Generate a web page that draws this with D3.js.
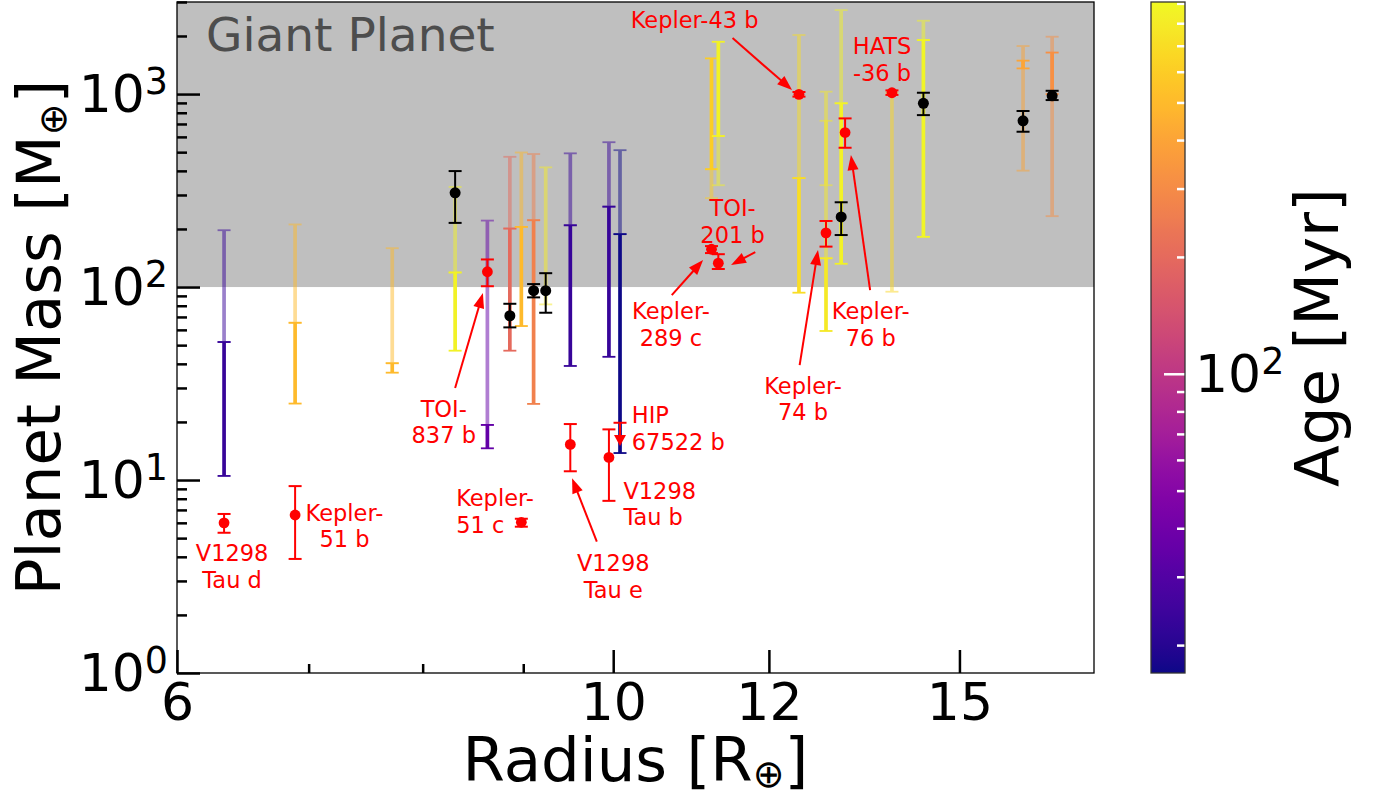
<!DOCTYPE html>
<html>
<head>
<meta charset="utf-8">
<script src="https://cdn.jsdelivr.net/npm/d3@7"></script>
<style>
  body { margin: 0; background: #fff; }
  svg { display: block; }
  text { font-family: "DejaVu Sans", sans-serif; }
</style>
</head>
<body>
<svg id="chart" width="1377" height="798"></svg>
<script>
// ---------- axis ticks ----------
const radiusTicks = [6, 10, 12, 15];
const radiusMinorTicks = [7, 8, 9];
const massDecades = [1, 10, 100, 1000];
const ageDecades = [100];
const giantMass = 100;

// ---------- predicted mass ranges (Earth masses) coloured by host age (Myr) ----------
const rangeRadius = [6.34, 6.89, 7.72, 8.31, 8.63, 8.86, 8.98, 9.11, 9.24, 9.51, 9.95, 10.08,
                     11.22, 11.31, 12.43, 12.83, 12.83, 13.06, 13.86, 14.38, 16.16, 16.72];
const rangeAge    = [23, 500, 500, 850, 35, 200, 500, 270, 800, 23, 23, 17,
                     600, 850, 700, 780, 780, 850, 660, 880, 400, 320];
const solidLow    = [10.5, 24.9, 36.0, 46.8, 14.6, 46.8, 62.8, 24.8, null, 39.0, 43.5, 13.8,
                     408, 606, 93.5, 59.2, null, 132, null, 182, 1358, 1000];
const solidHigh   = [51.9, 65.3, 40.3, 119, 19.3, 201, 205, 222, null, 209, 261, 188,
                     1531, 1866, 367, 141, null, 896, null, 1905, 1490, 1641];
const faintLow    = [51.9, 65.3, 40.3, 119, 19.3, 201, 205, 222, 81.3, 209, 261, 188,
                     289, 337, 367, 141, 337, 896, 94.6, 1905, 401, 233];
const faintHigh   = [197, 211, 159, 330, 221, 473, 498, 489, 417, 493, 563, 512,
                     408, 606, 2023, 1029, 727, 2723, 1016, 2399, 1774, 1982];

// ---------- measured reference planets ----------
const refRadius = [8.31, 8.86, 9.11, 9.24, 13.06, 14.38, 16.16, 16.72];
const refMass   = [308, 71.0, 95.7, 95.7, 231, 896, 727, 980];
const refLow    = [215, 61.8, 88.4, 73.6, 186, 778, 638, 931];
const refHigh   = [399, 81.9, 103.6, 118, 275, 1016, 817, 1040];

// ---------- young planets with measured masses ----------
const youngName   = ["V1298 Tau d", "Kepler-51 b", "TOI-837 b", "Kepler-51 c", "V1298 Tau e",
                     "V1298 Tau b", "Kepler-289 c", "TOI-201 b", "Kepler-43 b", "Kepler-74 b",
                     "Kepler-76 b", "HATS-36 b"];
const youngRadius = [6.34, 6.89, 8.63, 8.98, 9.51, 9.95, 11.22, 11.31, 12.43, 12.83, 13.12, 13.86];
const youngMass   = [6.0, 6.59, 120, 6.04, 15.3, 13.1, 157, 133, 997, 191, 632, 1016];
const youngLow    = [5.33, 3.9, 101, 5.73, 11.1, 7.8, 150, 124, 970, 162, 527, 990];
const youngHigh   = [6.67, 9.3, 139, 6.3, 19.5, 18.3, 163, 148, 1025, 220, 748, 1045];

// ---------- young planet with an upper mass limit ----------
const limitRadius = [10.08];
const limitMass   = [19.8];
const limitArrowTo = [15.0];

// ---------- annotations (data coordinates) ----------
const labelText   = ["Kepler-43 b", "HATS\n-36 b", "TOI-\n201 b", "Kepler-\n289 c", "Kepler-\n76 b",
                     "Kepler-\n74 b", "TOI-\n837 b", "V1298\nTau d", "Kepler-\n51 b", "Kepler-\n51 c",
                     "V1298\nTau e", "V1298\nTau b", "HIP\n67522 b"];
const labelRadius = [11.00, 13.70, 11.50, 10.70, 13.52, 12.49, 8.20, 6.40, 7.30, 8.32, 10.00, 10.12, 10.22];
const labelMass   = [2417, 1518, 218.5, 63.9, 63.9, 26.4, 20.0, 3.58, 5.78, 6.91, 3.18, 7.53, 18.5];
const labelAlign  = ["middle", "middle", "middle", "middle", "middle", "middle", "middle", "middle",
                     "middle", "start", "middle", "start", "start"];

const arrowFromR = [11.50, 11.81, 10.71, 13.51, 12.44, 8.31, 9.81];
const arrowFromM = [1950, 151.8, 90.9, 96.5, 39.4, 30.0, 4.79];
const arrowToR   = [12.33, 11.48, 11.11, 13.21, 12.71, 8.585, 9.53];
const arrowToM   = [1049, 130, 138, 483, 155.5, 93.1, 10.2];

// ---------- layout ----------
const svg = d3.select("#chart");
const M = { left: 177, right: 1094, top: 2, bottom: 673 };
const CB = { left: 1151, width: 34 };
const RED = "#ff0000";

const x = d3.scaleLog().domain([6, 17.56]).range([M.left, M.right]);
const y = d3.scaleLog().domain([1, 3000]).range([M.bottom, M.top]);
const color = d3.scaleSequentialLog(d3.interpolatePlasma).domain([17, 910]);
const yAge = d3.scaleLog().domain([17, 910]).range([M.bottom, M.top]);

// giant-planet regime
svg.append("rect")
  .attr("x", M.left).attr("y", M.top)
  .attr("width", M.right - M.left).attr("height", y(giantMass) - M.top)
  .attr("fill", "#bfbfbf");
svg.append("text")
  .attr("x", 206).attr("y", 51)
  .attr("font-size", 47).attr("fill", "#4d4d4d")
  .text("Giant Planet");

const plot = svg.append("g");

function errorBar(g, px, lo, hi, stroke, lw, half, capW) {
  g.append("line")
    .attr("x1", px).attr("x2", px).attr("y1", y(lo)).attr("y2", y(hi))
    .attr("stroke", stroke).attr("stroke-width", lw);
  [lo, hi].forEach(v => g.append("line")
    .attr("x1", px - half).attr("x2", px + half).attr("y1", y(v)).attr("y2", y(v))
    .attr("stroke", stroke).attr("stroke-width", capW));
}

// predicted ranges: faint part first, solid part on top
rangeRadius.forEach((r, i) => {
  const c = color(rangeAge[i]);
  const px = x(r);
  if (faintLow[i] != null) {
    const g = plot.append("g").attr("opacity", 0.5);
    errorBar(g, px, faintLow[i], faintHigh[i], c, 3.7, 6.5, 1.8);
  }
  if (solidLow[i] != null) {
    const g = plot.append("g");
    errorBar(g, px, solidLow[i], solidHigh[i], c, 3.7, 6.5, 1.8);
  }
});

// reference planets
refRadius.forEach((r, i) => {
  const g = plot.append("g");
  errorBar(g, x(r), refLow[i], refHigh[i], "#000", 2, 6.5, 2);
  g.append("circle").attr("cx", x(r)).attr("cy", y(refMass[i])).attr("r", 5.5).attr("fill", "#000");
});

// young planets
youngRadius.forEach((r, i) => {
  const g = plot.append("g");
  errorBar(g, x(r), youngLow[i], youngHigh[i], RED, 2, 6.5, 2);
  g.append("circle").attr("cx", x(r)).attr("cy", y(youngMass[i])).attr("r", 5.4).attr("fill", RED);
});

function arrowHead(g, x1, y1, x2, y2, len, halfW, lw) {
  const dx = x2 - x1, dy = y2 - y1, L = Math.hypot(dx, dy);
  const ux = dx / L, uy = dy / L;
  const bx = x2 - ux * len, by = y2 - uy * len;
  g.append("line").attr("x1", x1).attr("y1", y1).attr("x2", bx + ux).attr("y2", by + uy)
    .attr("stroke", RED).attr("stroke-width", lw);
  g.append("path")
    .attr("d", `M${x2},${y2}L${bx - uy * halfW},${by + ux * halfW}L${bx + uy * halfW},${by - ux * halfW}Z`)
    .attr("fill", RED);
}

// upper limit
limitRadius.forEach((r, i) => {
  const g = plot.append("g");
  const px = x(r);
  g.append("line").attr("x1", px - 6.5).attr("x2", px + 6.5)
    .attr("y1", y(limitMass[i])).attr("y2", y(limitMass[i]))
    .attr("stroke", RED).attr("stroke-width", 2);
  arrowHead(g, px, y(limitMass[i]), px, y(limitArrowTo[i]), 11, 6, 2);
});

// annotation arrows
arrowFromR.forEach((r, i) => {
  arrowHead(plot, x(r), y(arrowFromM[i]), x(arrowToR[i]), y(arrowToM[i]), 15, 5.5, 2);
});

// annotation labels
const LBL = 22.5, LINE = 26.6;
labelText.forEach((t, i) => {
  const lines = t.split("\n");
  const cx = x(labelRadius[i]), cy = y(labelMass[i]);
  const first = cy - (lines.length - 1) * LINE / 2 + 0.729 * LBL / 2;
  const txt = plot.append("text")
    .attr("font-size", LBL).attr("fill", RED).attr("text-anchor", labelAlign[i]);
  lines.forEach((s, k) => txt.append("tspan").attr("x", cx).attr("y", first + k * LINE).text(s));
});

// frame
svg.append("rect")
  .attr("x", M.left).attr("y", M.top)
  .attr("width", M.right - M.left).attr("height", M.bottom - M.top)
  .attr("fill", "none").attr("stroke", "#000").attr("stroke-width", 1.3);

// x axis (ticks point inward)
const TICK_FONT = 52;
const gx = svg.append("g").attr("transform", `translate(0,${M.bottom})`)
  .call(d3.axisBottom(x).tickValues(radiusTicks).tickFormat(d3.format("d"))
    .tickSizeInner(-23).tickSizeOuter(0).tickPadding(10));
gx.select(".domain").remove();
gx.selectAll("line").attr("stroke-width", 2.5);
gx.selectAll("text").attr("font-size", TICK_FONT).attr("font-family", "DejaVu Sans").attr("fill", "#000");
const gxm = svg.append("g").attr("transform", `translate(0,${M.bottom})`)
  .call(d3.axisBottom(x).tickValues(radiusMinorTicks).tickFormat("").tickSizeInner(-9).tickSizeOuter(0));
gxm.select(".domain").remove();
gxm.selectAll("line").attr("stroke-width", 2.5);

// y axis
const massMinor = [];
massDecades.forEach(d => { for (let k = 2; k <= 9; k++) if (d * k <= 3000) massMinor.push(d * k); });
const gy = svg.append("g").attr("transform", `translate(${M.left},0)`)
  .call(d3.axisLeft(y).tickValues(massDecades).tickFormat("").tickSizeInner(-23).tickSizeOuter(0));
gy.select(".domain").remove();
gy.selectAll("line").attr("stroke-width", 2.5);
const gym = svg.append("g").attr("transform", `translate(${M.left},0)`)
  .call(d3.axisLeft(y).tickValues(massMinor).tickFormat("").tickSizeInner(-10).tickSizeOuter(0));
gym.select(".domain").remove();
gym.selectAll("line").attr("stroke-width", 2.5);

function powerLabel(sel, px, py, anchor, exp) {
  const t = sel.append("text").attr("x", px).attr("y", py)
    .attr("font-size", TICK_FONT).attr("text-anchor", anchor).attr("fill", "#000");
  t.append("tspan").text("10");
  t.append("tspan").attr("font-size", TICK_FONT * 0.7).attr("dy", -18).text(exp);
  return t;
}
massDecades.forEach(d => powerLabel(svg, 168, y(d) + 18, "end", Math.round(Math.log10(d))));

// axis titles
const xt = svg.append("text").attr("x", (M.left + M.right) / 2).attr("y", 781)
  .attr("font-size", 61).attr("text-anchor", "middle").attr("fill", "#000");
xt.append("tspan").text("Radius [R");
xt.append("tspan").attr("font-size", 38).attr("dy", 6).text("⊕");
xt.append("tspan").attr("dy", -6).text("]");

const yt = svg.append("text")
  .attr("transform", `translate(60,${(M.top + M.bottom) / 2}) rotate(-90)`)
  .attr("font-size", 61).attr("text-anchor", "middle").attr("fill", "#000");
yt.append("tspan").text("Planet Mass [M");
yt.append("tspan").attr("font-size", 38).attr("dy", 6).text("⊕");
yt.append("tspan").attr("dy", -6).text("]");

// colour bar
const defs = svg.append("defs");
const grad = defs.append("linearGradient").attr("id", "ageGrad")
  .attr("x1", 0).attr("y1", 1).attr("x2", 0).attr("y2", 0);
d3.range(0, 1.0001, 0.02).forEach(t => grad.append("stop")
  .attr("offset", t).attr("stop-color", d3.interpolatePlasma(t)));
svg.append("rect").attr("x", CB.left).attr("y", M.top)
  .attr("width", CB.width).attr("height", M.bottom - M.top)
  .attr("fill", "url(#ageGrad)");

const ageMinor = [];
[10, 100].forEach(d => { for (let k = 2; k <= 9; k++) { const v = d * k; if (v >= 17 && v <= 910) ageMinor.push(v); } });
const cbTicks = svg.append("g").attr("stroke", "#fff").attr("stroke-width", 2.5);
ageMinor.forEach(v => cbTicks.append("line")
  .attr("x1", CB.left + CB.width - 8).attr("x2", CB.left + CB.width)
  .attr("y1", yAge(v)).attr("y2", yAge(v)));
ageDecades.forEach(v => cbTicks.append("line")
  .attr("x1", CB.left + CB.width - 21).attr("x2", CB.left + CB.width)
  .attr("y1", yAge(v)).attr("y2", yAge(v)));
svg.append("rect").attr("x", CB.left).attr("y", M.top)
  .attr("width", CB.width).attr("height", M.bottom - M.top)
  .attr("fill", "none").attr("stroke", "#333").attr("stroke-width", 1.3);
ageDecades.forEach(v => powerLabel(svg, CB.left + CB.width + 10, yAge(v) + 18, "start", Math.round(Math.log10(v))));

svg.append("text")
  .attr("transform", `translate(1338,${(M.top + M.bottom) / 2}) rotate(-90)`)
  .attr("font-size", 61).attr("text-anchor", "middle").attr("fill", "#000")
  .text("Age [Myr]");
</script>
</body>
</html>
